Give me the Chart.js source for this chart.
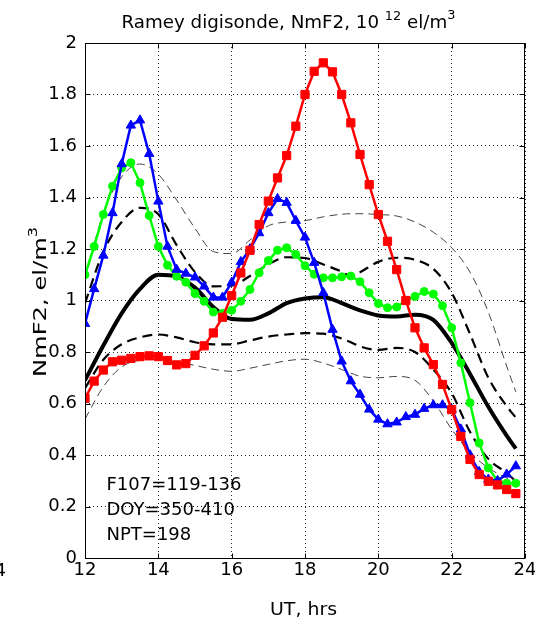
<!DOCTYPE html>
<html><head><meta charset="utf-8">
<script src="https://cdn.jsdelivr.net/npm/chart.js@4.4.0/dist/chart.umd.min.js"></script>
<style>html,body{margin:0;padding:0;background:#fff;overflow:hidden}canvas{display:block}</style>
</head><body>
<canvas id="c" width="535" height="621" style="width:535px;height:621px"></canvas>
<script>
// ---- data ----
const hours = [12,12.25,12.5,12.75,13,13.25,13.5,13.75,14,14.25,14.5,14.75,15,15.25,15.5,15.75,16,16.25,16.5,16.75,17,17.25,17.5,17.75,18,18.25,18.5,18.75,19,19.25,19.5,19.75,20,20.25,20.5,20.75,21,21.25,21.5,21.75,22,22.25,22.5,22.75,23,23.25,23.5,23.75];
const redVals = [0.62,0.687,0.73,0.762,0.768,0.775,0.782,0.785,0.782,0.767,0.75,0.755,0.787,0.824,0.874,0.935,1.019,1.107,1.195,1.295,1.386,1.476,1.563,1.677,1.80,1.89,1.923,1.888,1.80,1.69,1.567,1.45,1.334,1.23,1.12,1.0,0.894,0.816,0.751,0.674,0.576,0.472,0.383,0.324,0.298,0.284,0.266,0.25];
const blueVals = [0.91,1.045,1.175,1.34,1.53,1.68,1.70,1.57,1.385,1.21,1.12,1.105,1.09,1.055,1.012,1.012,1.07,1.15,1.20,1.262,1.34,1.395,1.38,1.31,1.245,1.147,1.03,0.887,0.764,0.687,0.635,0.577,0.538,0.52,0.527,0.548,0.557,0.58,0.594,0.594,0.577,0.50,0.40,0.335,0.305,0.30,0.325,0.357];
const greenVals = [1.10,1.21,1.334,1.444,1.515,1.535,1.457,1.33,1.21,1.137,1.094,1.071,1.027,0.997,0.955,0.95,0.962,0.997,1.043,1.108,1.155,1.195,1.205,1.179,1.135,1.102,1.088,1.088,1.092,1.095,1.073,1.03,0.988,0.972,0.975,1.0,1.016,1.035,1.025,0.98,0.894,0.758,0.603,0.447,0.35,0.30,0.29,0.29];

const statHours = [12,12.5,13,13.5,14,14.5,15,15.5,16,16.5,17,17.5,18,18.5,19,19.25,19.5,20,20.5,21,21.5,22,22.5,23,23.5,23.75];
const medianVals = [0.69,0.825,0.95,1.045,1.10,1.093,1.05,0.975,0.928,0.925,0.95,0.99,1.008,1.013,0.99,0.975,0.962,0.942,0.938,0.945,0.925,0.835,0.715,0.587,0.475,0.425];
const upperQuartVals = [0.99,1.19,1.305,1.36,1.335,1.215,1.11,1.055,1.058,1.095,1.14,1.168,1.165,1.14,1.112,1.094,1.11,1.15,1.166,1.158,1.123,1.03,0.87,0.70,0.59,0.545];
const lowerQuartVals = [0.66,0.77,0.83,0.857,0.868,0.857,0.838,0.83,0.83,0.845,0.86,0.868,0.873,0.871,0.852,0.838,0.822,0.808,0.816,0.80,0.732,0.64,0.49,0.385,0.33,0.298];
const upperDecVals = [1.08,1.34,1.48,1.53,1.49,1.39,1.28,1.19,1.182,1.235,1.29,1.305,1.31,1.325,1.335,1.337,1.337,1.334,1.328,1.305,1.265,1.205,1.11,0.955,0.745,0.645];
const lowerDecVals = [0.54,0.665,0.742,0.768,0.772,0.762,0.748,0.733,0.725,0.737,0.752,0.766,0.772,0.757,0.732,0.718,0.706,0.70,0.705,0.69,0.61,0.50,0.41,0.35,0.311,0.298];

const xTicks = [12,14,16,18,20,22,24];
const yTicks = [0,0.2,0.4,0.6,0.8,1,1.2,1.4,1.6,1.8,2];
const annotationLines = ["F107=119-136","DOY=350-410","NPT=198"];
const titleText = {main:"Ramey digisonde, NmF2, 10 ", sup1:"12", mid:" el/m", sup2:"3"};
const yTitleText = {main:"NmF2, el/m", sup:"3"};
const xTitleText = "UT, hrs";
const leftCutLabel = "24";

// ---- helpers ----
const FONT = "'DejaVu Sans', 'Liberation Sans', sans-serif";
const pts = (xs, ys) => xs.map((x, i) => ({x: x, y: ys[i]}));

function drawParts(ctx, parts, targetW) {
  let total = 0;
  parts.forEach(p => { ctx.font = p.font; p.w = ctx.measureText(p.t).width; total += p.w; });
  const s = targetW ? targetW / total : 1;
  ctx.save();
  ctx.scale(s, 1);
  let cx = 0;
  parts.forEach(p => { ctx.font = p.font; ctx.fillText(p.t, cx, -p.dy); cx += p.w; });
  ctx.restore();
}

const decorPlugin = {
  id: 'decor',
  afterDraw(chart) {
    const ctx = chart.ctx;
    const a = chart.chartArea;
    const xs = chart.scales.x, ys = chart.scales.y;
    ctx.save();
    // frame
    ctx.strokeStyle = '#000';
    ctx.lineWidth = 1;
    ctx.setLineDash([]);
    const L = Math.round(a.left) + 0.5, R = Math.round(a.right) - 0.5;
    const T = Math.round(a.top) + 0.5, B = Math.round(a.bottom) + 0.5;
    ctx.strokeRect(L, T, R - L, B - T);
    // inner ticks
    ctx.beginPath();
    xTicks.forEach(v => {
      const px = Math.round(xs.getPixelForValue(v)) + 0.5;
      ctx.moveTo(px, B); ctx.lineTo(px, B - 5);
      ctx.moveTo(px, T); ctx.lineTo(px, T + 5);
    });
    yTicks.forEach(v => {
      const py = Math.round(ys.getPixelForValue(v)) + 0.5;
      ctx.moveTo(L, py); ctx.lineTo(L + 5, py);
      ctx.moveTo(R, py); ctx.lineTo(R - 5, py);
    });
    ctx.stroke();

    ctx.fillStyle = '#000';
    ctx.textBaseline = 'alphabetic';
    ctx.textAlign = 'left';
    // title
    ctx.save();
    ctx.translate(121.5, 27.5);
    drawParts(ctx, [
      {t: titleText.main, font: "17px " + FONT, dy: 0},
      {t: titleText.sup1, font: "12px " + FONT, dy: 8},
      {t: titleText.mid, font: "17px " + FONT, dy: 0},
      {t: titleText.sup2, font: "12px " + FONT, dy: 9}
    ], 334);
    ctx.restore();
    // x title
    ctx.save();
    ctx.translate(270, 615);
    drawParts(ctx, [{t: xTitleText, font: "18px " + FONT, dy: 0}], 67);
    ctx.restore();
    // y title
    ctx.save();
    ctx.translate(46, 377);
    ctx.rotate(-Math.PI / 2);
    drawParts(ctx, [
      {t: yTitleText.main, font: "18px " + FONT, dy: 0},
      {t: yTitleText.sup, font: "12px " + FONT, dy: 9}
    ], 150);
    ctx.restore();
    // annotation
    ctx.font = "18px " + FONT;
    annotationLines.forEach((t, i) => ctx.fillText(t, 106.5, 490 + 25 * i));
    // cut-off label of neighbouring panel
    ctx.textAlign = 'right';
    ctx.textBaseline = 'middle';
    ctx.fillText(leftCutLabel, 6, 571);
    ctx.restore();
  }
};

const colored = (label, ys, color, style, radius) => ({
  label, data: pts(hours, ys), borderColor: color, backgroundColor: color,
  borderWidth: 2.5, pointStyle: style, pointRadius: radius, pointBorderWidth: 1,
  pointBorderColor: color, pointBackgroundColor: color, tension: 0, clip: 0
});
const stat = (label, ys, width, dash, color) => ({
  label, data: pts(statHours, ys), borderColor: color, backgroundColor: color,
  borderWidth: width, borderDash: dash, pointRadius: 0, cubicInterpolationMode: 'monotone',
  clip: 0, borderCapStyle: 'butt'
});

new Chart(document.getElementById('c'), {
  type: 'line',
  data: {
    datasets: [
      colored('red', redVals, '#ff0000', 'rect', 5.8),
      colored('blue', blueVals, '#0000ff', 'triangle', 5.4),
      colored('green', greenVals, '#00ff00', 'circle', 4),
      stat('median', medianVals, 4, [], '#000'),
      stat('upper quartile', upperQuartVals, 2.2, [10, 6], '#000'),
      stat('lower quartile', lowerQuartVals, 2.2, [10, 6], '#000'),
      stat('upper decile', upperDecVals, 1, [8, 5], '#444'),
      stat('lower decile', lowerDecVals, 1, [8, 5], '#444')
    ]
  },
  options: {
    responsive: false,
    animation: false,
    devicePixelRatio: 1,
    layout: {padding: {top: 43, right: 10, left: 0, bottom: 0}},
    plugins: {legend: {display: false}, tooltip: {enabled: false}, title: {display: false}},
    scales: {
      x: {
        type: 'linear', min: 12, max: 24,
        afterBuildTicks: s => { s.ticks = xTicks.map(v => ({value: v})); },
        afterFit: s => { s.height = 63; s.paddingLeft = 0; s.paddingRight = 0; },
        ticks: {font: {family: FONT, size: 18}, color: '#000', padding: 2, maxRotation: 0, autoSkip: false,
                callback: v => String(v)},
        grid: {color: 'rgba(0,0,0,0.85)', lineWidth: 1, drawTicks: false},
        border: {display: false, dash: [1, 3]}
      },
      y: {
        type: 'linear', min: 0, max: 2,
        afterBuildTicks: s => { s.ticks = yTicks.map(v => ({value: v})); },
        afterFit: s => { s.width = 85; s.paddingTop = 0; s.paddingBottom = 0; },
        ticks: {font: {family: FONT, size: 18}, color: '#000', padding: 8, autoSkip: false,
                callback: v => String(+v.toFixed(1))},
        grid: {color: 'rgba(0,0,0,0.85)', lineWidth: 1, drawTicks: false},
        border: {display: false, dash: [1, 3]}
      }
    }
  },
  plugins: [decorPlugin]
});
</script>
</body></html>
